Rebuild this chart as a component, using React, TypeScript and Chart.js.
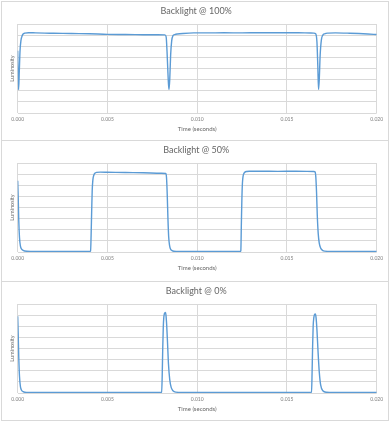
import React, { useEffect, useRef } from "react";
import { Chart, registerables } from "chart.js";

Chart.register(...registerables);

// ---- data (time in seconds, luminosity in grid units 0..8) ----
const T100 = [0, 0.00002, 0.00005, 0.00009, 0.00013, 0.00018, 0.00024, 0.0003, 0.0004, 0.0006, 0.001, 0.0015, 0.002, 0.003, 0.004, 0.005, 0.006, 0.007, 0.0078, 0.0082, 0.00827, 0.00832, 0.00837, 0.0084, 0.00843, 0.00847, 0.00852, 0.00858, 0.00865, 0.00875, 0.0089, 0.0092, 0.0098, 0.0105, 0.0115, 0.0125, 0.0135, 0.0145, 0.0152, 0.016, 0.0165, 0.0166, 0.01667, 0.01672, 0.01676, 0.0168, 0.01685, 0.01692, 0.017, 0.0171, 0.0173, 0.0177, 0.0185, 0.019, 0.0195, 0.02];
const V100 = [5.6, 3.6, 2.1, 3.8, 5.6, 6.5, 6.9, 7.1, 7.18, 7.22, 7.2, 7.18, 7.17, 7.14, 7.12, 7.07, 7.06, 7.04, 7.03, 7.02, 6.85, 5.5, 3.6, 2.6, 2.1, 3.0, 5.2, 6.5, 6.95, 7.05, 7.1, 7.15, 7.2, 7.2, 7.21, 7.2, 7.22, 7.22, 7.22, 7.2, 7.18, 7.12, 6.4, 4.2, 2.1, 3.0, 5.2, 6.6, 7.0, 7.12, 7.18, 7.2, 7.17, 7.14, 7.1, 7.05];

const T50 = [0, 0.00003, 0.00006, 0.0001, 0.00015, 0.0002, 0.0003, 0.0005, 0.001, 0.002, 0.003, 0.004, 0.00406, 0.00409, 0.00412, 0.00415, 0.00419, 0.00424, 0.0043, 0.0044, 0.0046, 0.005, 0.006, 0.007, 0.008, 0.00825, 0.00829, 0.00833, 0.00837, 0.00841, 0.00846, 0.00852, 0.0086, 0.0087, 0.009, 0.01, 0.011, 0.012, 0.0124, 0.01243, 0.01246, 0.01249, 0.01252, 0.01256, 0.0126, 0.01266, 0.01275, 0.0129, 0.0135, 0.0145, 0.0155, 0.0165, 0.01657, 0.01661, 0.01665, 0.01669, 0.01674, 0.0168, 0.01688, 0.01698, 0.0171, 0.0175, 0.018, 0.019, 0.02];
const V50 = [6.4, 4.8, 2.8, 1.3, 0.55, 0.3, 0.15, 0.07, 0.05, 0.05, 0.04, 0.05, 0.08, 1.5, 3.6, 5.5, 6.5, 6.9, 7.08, 7.16, 7.18, 7.17, 7.14, 7.12, 7.08, 7.06, 6.7, 5.2, 3.0, 1.4, 0.6, 0.25, 0.12, 0.07, 0.05, 0.05, 0.04, 0.05, 0.05, 0.1, 2.5, 4.8, 6.2, 6.85, 7.05, 7.18, 7.24, 7.26, 7.26, 7.25, 7.26, 7.24, 7.2, 6.7, 5.3, 3.3, 1.7, 0.8, 0.35, 0.15, 0.08, 0.05, 0.05, 0.05, 0.05];

const T0 = [0, 0.00003, 0.00006, 0.0001, 0.00015, 0.0002, 0.0003, 0.0005, 0.001, 0.003, 0.005, 0.007, 0.0079, 0.00802, 0.00805, 0.00808, 0.00811, 0.00814, 0.00817, 0.0082, 0.00823, 0.00826, 0.0083, 0.00835, 0.0084, 0.00847, 0.00855, 0.00865, 0.0088, 0.0092, 0.01, 0.012, 0.014, 0.0162, 0.01637, 0.0164, 0.01643, 0.01646, 0.0165, 0.01654, 0.01658, 0.01662, 0.01667, 0.01673, 0.0168, 0.01688, 0.017, 0.0172, 0.0176, 0.018, 0.02];
const V0 = [6.9, 5.2, 3.2, 1.5, 0.6, 0.3, 0.12, 0.05, 0.05, 0.05, 0.05, 0.05, 0.05, 0.08, 1.5, 4.0, 5.9, 6.8, 7.1, 7.2, 7.24, 7.0, 6.1, 4.4, 2.6, 1.2, 0.5, 0.2, 0.08, 0.05, 0.05, 0.05, 0.05, 0.05, 0.08, 1.8, 4.2, 6.0, 6.8, 7.05, 7.1, 6.8, 5.7, 3.8, 1.9, 0.7, 0.2, 0.07, 0.05, 0.05, 0.05];

const TITLES = ["Backlight @ 100%", "Backlight @ 50%", "Backlight @ 0%"];
const X_TITLE = "Time (seconds)";
const Y_TITLE = "Luminosity";
const X_MIN = 0;
const X_MAX = 0.02;
const X_STEP = 0.005;
const Y_MIN = 0;
const Y_MAX = 8;
const Y_STEP = 1;

const SERIES = [
  { t: T100, v: V100 },
  { t: T50, v: V50 },
  { t: T0, v: V0 },
];

const FONT = "Lato, 'Open Sans', sans-serif";
const CANVAS_W = 386;
const CANVAS_H = 138;
const PLOT_TOP = 22;
const PLOT_H = 89;
const PLOT_LEFT = 15.7;
const PLOT_RIGHT = 374.7;

const textPlugin = {
  id: "panelText",
  afterDraw(chart: any, _args: any, opts: any) {
    const { ctx, chartArea } = chart;
    ctx.save();
    ctx.fillStyle = "#666666";
    ctx.textAlign = "center";
    ctx.textBaseline = "middle";
    ctx.font = `9px ${FONT}`;
    ctx.fillText(opts.title, (chartArea.left + chartArea.right) / 2 - 1, 9.5);
    ctx.font = `6px ${FONT}`;
    ctx.fillText(X_TITLE, (chartArea.left + chartArea.right) / 2, chartArea.bottom + 16);
    ctx.translate(chartArea.left - 5.5, (chartArea.top + chartArea.bottom) / 2);
    ctx.rotate(-Math.PI / 2);
    ctx.font = `5.5px ${FONT}`;
    ctx.fillText(Y_TITLE, 0, 0);
    ctx.restore();
  },
};

function Panel({ idx }: { idx: number }) {
  const ref = useRef<HTMLCanvasElement | null>(null);
  useEffect(() => {
    const s = SERIES[idx];
    const data = s.t.map((t, i) => ({ x: t, y: s.v[i] }));
    const chart = new Chart(ref.current as HTMLCanvasElement, {
      type: "line",
      data: {
        datasets: [
          {
            data,
            borderColor: "#5b9bd5",
            borderWidth: 1.4,
            pointRadius: 0,
            cubicInterpolationMode: "monotone",
            fill: false,
          },
        ],
      },
      options: {
        animation: false,
        responsive: false,
        devicePixelRatio: 1,
        layout: {
          padding: { left: PLOT_LEFT, right: CANVAS_W - PLOT_RIGHT, top: PLOT_TOP, bottom: 0 },
        },
        plugins: {
          legend: { display: false },
          tooltip: { enabled: false },
          title: { display: false },
          panelText: { title: TITLES[idx] },
        } as any,
        scales: {
          x: {
            type: "linear",
            min: X_MIN,
            max: X_MAX,
            afterFit: (sc: any) => {
              sc.height = CANVAS_H - PLOT_TOP - PLOT_H;
            },
            ticks: {
              stepSize: X_STEP,
              padding: 3,
              maxRotation: 0,
              color: "#7f7f7f",
              font: { family: FONT, size: 5 },
              callback: (v: any) => Number(v).toFixed(3),
            },
            grid: { color: "#d9d9d9", drawTicks: false, lineWidth: 1 },
            border: { display: false },
          },
          y: {
            min: Y_MIN,
            max: Y_MAX,
            afterFit: (sc: any) => {
              sc.width = 0;
            },
            ticks: { stepSize: Y_STEP, display: false },
            grid: { color: "#d9d9d9", drawTicks: false, lineWidth: 1 },
            border: { display: false },
          },
        },
      },
      plugins: [textPlugin],
    } as any);
    return () => chart.destroy();
  }, [idx]);
  return <canvas ref={ref} width={CANVAS_W} height={CANVAS_H} style={{ display: "block" }} />;
}

const PANEL_TOPS = [1, 140, 281];
const PANEL_HEIGHTS = [140, 142, 140];

export default function App() {
  return (
    <div>
      {PANEL_TOPS.map((top, i) => (
        <div
          key={i}
          style={{
            position: "absolute",
            left: 1,
            top,
            width: 388,
            height: PANEL_HEIGHTS[i],
            border: "1px solid #d9d9d9",
            boxSizing: "border-box",
            background: "#fff",
          }}
        >
          <Panel idx={i} />
        </div>
      ))}
    </div>
  );
}
